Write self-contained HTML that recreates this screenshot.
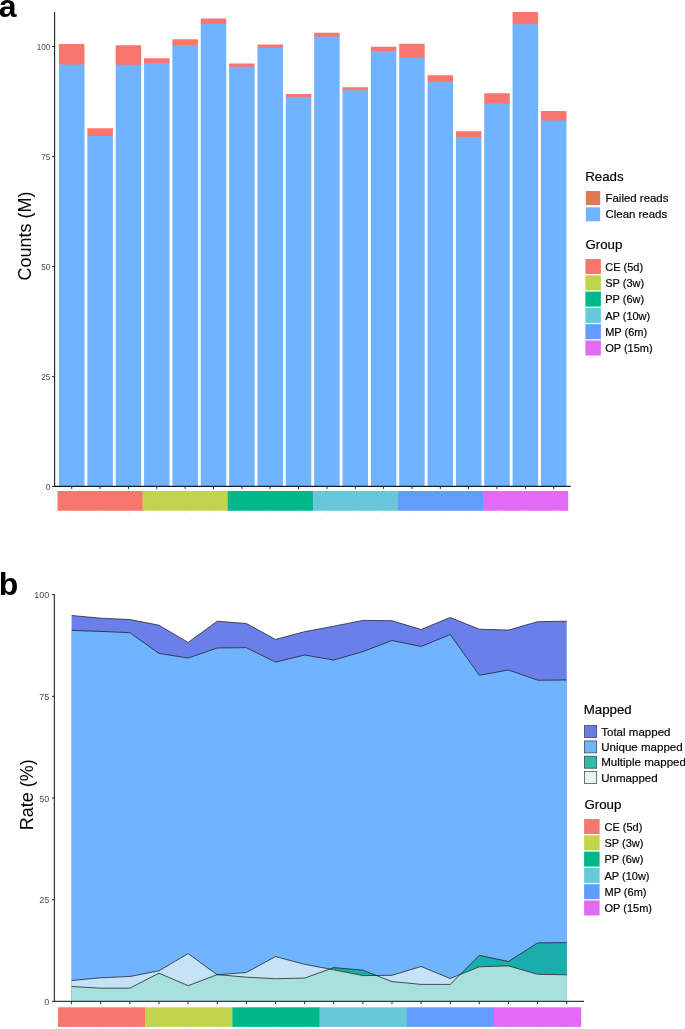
<!DOCTYPE html>
<html><head><meta charset="utf-8"><title>Figure</title>
<style>
html,body{margin:0;padding:0;background:#fff;}
body{width:685px;height:1029px;overflow:hidden;}
svg{display:block;font-family:"Liberation Sans", sans-serif;}
.lg text{stroke:#000;stroke-width:0.18px;}
</style></head><body>
<svg width="685" height="1029" viewBox="0 0 685 1029">
<rect width="685" height="1029" fill="#fff"/>
<g style="will-change:transform">
<rect x="59.00" y="44.00" width="25.5" height="21.10" fill="#F8766D"/>
<rect x="59.00" y="64.50" width="25.5" height="421.75" fill="#70B4FF"/>
<rect x="87.35" y="128.25" width="25.5" height="8.35" fill="#F8766D"/>
<rect x="87.35" y="136.00" width="25.5" height="350.25" fill="#70B4FF"/>
<rect x="115.70" y="45.25" width="25.5" height="20.10" fill="#F8766D"/>
<rect x="115.70" y="64.75" width="25.5" height="421.50" fill="#70B4FF"/>
<rect x="144.05" y="58.25" width="25.5" height="5.35" fill="#F8766D"/>
<rect x="144.05" y="63.00" width="25.5" height="423.25" fill="#70B4FF"/>
<rect x="172.40" y="39.25" width="25.5" height="6.35" fill="#F8766D"/>
<rect x="172.40" y="45.00" width="25.5" height="441.25" fill="#70B4FF"/>
<rect x="200.75" y="18.50" width="25.5" height="6.10" fill="#F8766D"/>
<rect x="200.75" y="24.00" width="25.5" height="462.25" fill="#70B4FF"/>
<rect x="229.10" y="63.50" width="25.5" height="3.85" fill="#F8766D"/>
<rect x="229.10" y="66.75" width="25.5" height="419.50" fill="#70B4FF"/>
<rect x="257.45" y="44.50" width="25.5" height="3.85" fill="#F8766D"/>
<rect x="257.45" y="47.75" width="25.5" height="438.50" fill="#70B4FF"/>
<rect x="285.80" y="94.00" width="25.5" height="3.85" fill="#F8766D"/>
<rect x="285.80" y="97.25" width="25.5" height="389.00" fill="#70B4FF"/>
<rect x="314.15" y="32.75" width="25.5" height="4.35" fill="#F8766D"/>
<rect x="314.15" y="36.50" width="25.5" height="449.75" fill="#70B4FF"/>
<rect x="342.50" y="87.25" width="25.5" height="3.60" fill="#F8766D"/>
<rect x="342.50" y="90.25" width="25.5" height="396.00" fill="#70B4FF"/>
<rect x="370.85" y="46.75" width="25.5" height="5.10" fill="#F8766D"/>
<rect x="370.85" y="51.25" width="25.5" height="435.00" fill="#70B4FF"/>
<rect x="399.20" y="43.75" width="25.5" height="14.35" fill="#F8766D"/>
<rect x="399.20" y="57.50" width="25.5" height="428.75" fill="#70B4FF"/>
<rect x="427.55" y="75.25" width="25.5" height="7.10" fill="#F8766D"/>
<rect x="427.55" y="81.75" width="25.5" height="404.50" fill="#70B4FF"/>
<rect x="455.90" y="131.25" width="25.5" height="6.60" fill="#F8766D"/>
<rect x="455.90" y="137.25" width="25.5" height="349.00" fill="#70B4FF"/>
<rect x="484.25" y="93.25" width="25.5" height="10.85" fill="#F8766D"/>
<rect x="484.25" y="103.50" width="25.5" height="382.75" fill="#70B4FF"/>
<rect x="512.60" y="12.00" width="25.5" height="12.85" fill="#F8766D"/>
<rect x="512.60" y="24.25" width="25.5" height="462.00" fill="#70B4FF"/>
<rect x="540.95" y="111.00" width="25.5" height="10.10" fill="#F8766D"/>
<rect x="540.95" y="120.50" width="25.5" height="365.75" fill="#70B4FF"/>
<path d="M54.6 12V486.35H570.75" fill="none" stroke="#1c1c1c" stroke-width="1.1"/>
<text x="50.3" y="49.7" text-anchor="end" font-size="8.2" fill="#4D4D4D">100</text>
<text x="50.3" y="159.8" text-anchor="end" font-size="8.2" fill="#4D4D4D">75</text>
<text x="50.3" y="269.8" text-anchor="end" font-size="8.2" fill="#4D4D4D">50</text>
<text x="50.3" y="379.8" text-anchor="end" font-size="8.2" fill="#4D4D4D">25</text>
<text x="50.3" y="489.6" text-anchor="end" font-size="8.2" fill="#4D4D4D">0</text>
<path d="M71.75 486.25v2.7M100.10 486.25v2.7M128.45 486.25v2.7M156.80 486.25v2.7M185.15 486.25v2.7M213.50 486.25v2.7M241.85 486.25v2.7M270.20 486.25v2.7M298.55 486.25v2.7M326.90 486.25v2.7M355.25 486.25v2.7M383.60 486.25v2.7M411.95 486.25v2.7M440.30 486.25v2.7M468.65 486.25v2.7M497.00 486.25v2.7M525.35 486.25v2.7M553.70 486.25v2.7M52 46.5H54.6M52 156.6H54.6M52 266.6H54.6M52 376.6H54.6M52 486.4H54.6" fill="none" stroke="#262626" stroke-width="1"/>
<rect x="57.50" y="491" width="85.42" height="19.75" fill="#F8766D"/>
<rect x="142.62" y="491" width="85.42" height="19.75" fill="#C0D44C"/>
<rect x="227.74" y="491" width="85.42" height="19.75" fill="#00B88A"/>
<rect x="312.86" y="491" width="85.42" height="19.75" fill="#66C8D8"/>
<rect x="397.98" y="491" width="85.42" height="19.75" fill="#619CFF"/>
<rect x="483.10" y="491" width="85.12" height="19.75" fill="#E36AF4"/>
<path d="M71.75 488.9V491M71.75 510.75v2.6M100.10 488.9V491M100.10 510.75v2.6M128.45 488.9V491M128.45 510.75v2.6M156.80 488.9V491M156.80 510.75v2.6M185.15 488.9V491M185.15 510.75v2.6M213.50 488.9V491M213.50 510.75v2.6M241.85 488.9V491M241.85 510.75v2.6M270.20 488.9V491M270.20 510.75v2.6M298.55 488.9V491M298.55 510.75v2.6M326.90 488.9V491M326.90 510.75v2.6M355.25 488.9V491M355.25 510.75v2.6M383.60 488.9V491M383.60 510.75v2.6M411.95 488.9V491M411.95 510.75v2.6M440.30 488.9V491M440.30 510.75v2.6M468.65 488.9V491M468.65 510.75v2.6M497.00 488.9V491M497.00 510.75v2.6M525.35 488.9V491M525.35 510.75v2.6M553.70 488.9V491M553.70 510.75v2.6M54.8 500.8H57.5M568.2 500.8h2.7" fill="none" stroke="#e6edef" stroke-width="0.9"/>
<text transform="translate(31.1 236) rotate(-90)" text-anchor="middle" font-size="18" fill="#000">Counts (M)</text>
<text x="-1.2" y="17" font-size="32" font-weight="bold" fill="#000">a</text>
<g class="lg">
<text x="585.2" y="181.4" font-size="13.3" fill="#000">Reads</text>
<rect x="585.8" y="191" width="14.4" height="14" fill="#E17A50"/>
<rect x="585.8" y="207.3" width="14.4" height="14" fill="#70B4FF"/>
<text x="605.5" y="201.5" font-size="11.45" fill="#000">Failed reads</text>
<text x="605.5" y="217.9" font-size="11.45" fill="#000">Clean reads</text>
<text x="585.4" y="249" font-size="13.3" fill="#000">Group</text>
<rect x="585.4" y="259.00" width="15.5" height="15" fill="#F8766D"/>
<text x="605.2" y="270.60" font-size="11" fill="#000">CE (5d)</text>
<rect x="585.4" y="275.30" width="15.5" height="15" fill="#C0D44C"/>
<text x="605.2" y="286.90" font-size="11" fill="#000">SP (3w)</text>
<rect x="585.4" y="291.60" width="15.5" height="15" fill="#00B88A"/>
<text x="605.2" y="303.20" font-size="11" fill="#000">PP (6w)</text>
<rect x="585.4" y="307.90" width="15.5" height="15" fill="#66C8D8"/>
<text x="605.2" y="319.50" font-size="11" fill="#000">AP (10w)</text>
<rect x="585.4" y="324.20" width="15.5" height="15" fill="#619CFF"/>
<text x="605.2" y="335.80" font-size="11" fill="#000">MP (6m)</text>
<rect x="585.4" y="340.50" width="15.5" height="15" fill="#E36AF4"/>
<text x="605.2" y="352.10" font-size="11" fill="#000">OP (15m)</text>
</g>
<clipPath id="cm"><polygon points="71.60,1001.4 71.60,986.50 100.72,988.20 129.85,988.20 158.97,973.20 188.10,985.70 217.22,974.60 246.35,977.20 275.48,978.70 304.60,978.10 333.73,967.60 362.85,970.20 391.98,981.60 421.10,984.40 450.23,984.40 479.35,955.30 508.48,961.50 537.60,942.90 566.73,942.60 566.73,1001.4"/></clipPath>
<polygon points="71.60,1001.4 71.60,615.50 100.72,618.20 129.85,619.50 158.97,625.20 188.10,642.40 217.22,621.20 246.35,623.50 275.48,639.40 304.60,631.70 333.73,626.20 362.85,620.40 391.98,620.70 421.10,629.50 450.23,617.50 479.35,629.20 508.48,630.10 537.60,621.70 566.73,621.20 566.73,1001.4" fill="#6A7FE9"/>
<polygon points="71.60,1001.4 71.60,630.40 100.72,631.40 129.85,632.70 158.97,653.40 188.10,658.10 217.22,648.00 246.35,647.70 275.48,662.10 304.60,655.00 333.73,660.00 362.85,651.60 391.98,640.50 421.10,646.50 450.23,634.50 479.35,675.30 508.48,670.00 537.60,680.20 566.73,680.00 566.73,1001.4" fill="#70B4FF"/>
<polygon points="71.60,1001.4 71.60,986.50 100.72,988.20 129.85,988.20 158.97,973.20 188.10,985.70 217.22,974.60 246.35,977.20 275.48,978.70 304.60,978.10 333.73,967.60 362.85,970.20 391.98,981.60 421.10,984.40 450.23,984.40 479.35,955.30 508.48,961.50 537.60,942.90 566.73,942.60 566.73,1001.4" fill="#19AEAC"/>
<polygon points="71.60,1001.4 71.60,980.50 100.72,977.80 129.85,976.50 158.97,970.80 188.10,953.60 217.22,974.80 246.35,972.50 275.48,956.60 304.60,964.30 333.73,969.80 362.85,975.60 391.98,975.30 421.10,966.50 450.23,978.50 479.35,966.80 508.48,965.90 537.60,974.30 566.73,974.80 566.73,1001.4" fill="#C5E2F6"/>
<polygon points="71.60,1001.4 71.60,980.50 100.72,977.80 129.85,976.50 158.97,970.80 188.10,953.60 217.22,974.80 246.35,972.50 275.48,956.60 304.60,964.30 333.73,969.80 362.85,975.60 391.98,975.30 421.10,966.50 450.23,978.50 479.35,966.80 508.48,965.90 537.60,974.30 566.73,974.80 566.73,1001.4" fill="#A7E0DC" clip-path="url(#cm)"/>
<polyline points="71.60,615.50 100.72,618.20 129.85,619.50 158.97,625.20 188.10,642.40 217.22,621.20 246.35,623.50 275.48,639.40 304.60,631.70 333.73,626.20 362.85,620.40 391.98,620.70 421.10,629.50 450.23,617.50 479.35,629.20 508.48,630.10 537.60,621.70 566.73,621.20" fill="none" stroke="#1c1c1c" stroke-width="0.75" stroke-linejoin="round"/>
<polyline points="71.60,630.40 100.72,631.40 129.85,632.70 158.97,653.40 188.10,658.10 217.22,648.00 246.35,647.70 275.48,662.10 304.60,655.00 333.73,660.00 362.85,651.60 391.98,640.50 421.10,646.50 450.23,634.50 479.35,675.30 508.48,670.00 537.60,680.20 566.73,680.00" fill="none" stroke="#1c1c1c" stroke-width="0.75" stroke-linejoin="round"/>
<polyline points="71.60,986.50 100.72,988.20 129.85,988.20 158.97,973.20 188.10,985.70 217.22,974.60 246.35,977.20 275.48,978.70 304.60,978.10 333.73,967.60 362.85,970.20 391.98,981.60 421.10,984.40 450.23,984.40 479.35,955.30 508.48,961.50 537.60,942.90 566.73,942.60" fill="none" stroke="#1c1c1c" stroke-width="0.75" stroke-linejoin="round"/>
<polyline points="71.60,980.50 100.72,977.80 129.85,976.50 158.97,970.80 188.10,953.60 217.22,974.80 246.35,972.50 275.48,956.60 304.60,964.30 333.73,969.80 362.85,975.60 391.98,975.30 421.10,966.50 450.23,978.50 479.35,966.80 508.48,965.90 537.60,974.30 566.73,974.80" fill="none" stroke="#1c1c1c" stroke-width="0.75" stroke-linejoin="round"/>
<path d="M54.4 594.3V1001.4H584" fill="none" stroke="#3c3c3c" stroke-width="1.25"/>
<text x="49.2" y="598.1" text-anchor="end" font-size="9" fill="#4D4D4D">100</text>
<text x="49.2" y="699.8" text-anchor="end" font-size="9" fill="#4D4D4D">75</text>
<text x="49.2" y="801.5" text-anchor="end" font-size="9" fill="#4D4D4D">50</text>
<text x="49.2" y="903.2" text-anchor="end" font-size="9" fill="#4D4D4D">25</text>
<text x="49.2" y="1004.9" text-anchor="end" font-size="9" fill="#4D4D4D">0</text>
<path d="M71.60 1001.4v2.7M100.72 1001.4v2.7M129.85 1001.4v2.7M158.97 1001.4v2.7M188.10 1001.4v2.7M217.22 1001.4v2.7M246.35 1001.4v2.7M275.48 1001.4v2.7M304.60 1001.4v2.7M333.73 1001.4v2.7M362.85 1001.4v2.7M391.98 1001.4v2.7M421.10 1001.4v2.7M450.23 1001.4v2.7M479.35 1001.4v2.7M508.48 1001.4v2.7M537.60 1001.4v2.7M566.73 1001.4v2.7M52 594.60H54.4M52 696.30H54.4M52 798.00H54.4M52 899.70H54.4M52 1001.40H54.4" fill="none" stroke="#262626" stroke-width="1"/>
<rect x="58.00" y="1007.3" width="87.50" height="19.6" fill="#F8766D"/>
<rect x="145.20" y="1007.3" width="87.50" height="19.6" fill="#C0D44C"/>
<rect x="232.40" y="1007.3" width="87.50" height="19.6" fill="#00B88A"/>
<rect x="319.60" y="1007.3" width="87.50" height="19.6" fill="#66C8D8"/>
<rect x="406.80" y="1007.3" width="87.50" height="19.6" fill="#619CFF"/>
<rect x="494.00" y="1007.3" width="87.20" height="19.6" fill="#E36AF4"/>
<path d="M71.60 1004.1V1007.3M71.60 1026.9v2.1M100.72 1004.1V1007.3M100.72 1026.9v2.1M129.85 1004.1V1007.3M129.85 1026.9v2.1M158.97 1004.1V1007.3M158.97 1026.9v2.1M188.10 1004.1V1007.3M188.10 1026.9v2.1M217.22 1004.1V1007.3M217.22 1026.9v2.1M246.35 1004.1V1007.3M246.35 1026.9v2.1M275.48 1004.1V1007.3M275.48 1026.9v2.1M304.60 1004.1V1007.3M304.60 1026.9v2.1M333.73 1004.1V1007.3M333.73 1026.9v2.1M362.85 1004.1V1007.3M362.85 1026.9v2.1M391.98 1004.1V1007.3M391.98 1026.9v2.1M421.10 1004.1V1007.3M421.10 1026.9v2.1M450.23 1004.1V1007.3M450.23 1026.9v2.1M479.35 1004.1V1007.3M479.35 1026.9v2.1M508.48 1004.1V1007.3M508.48 1026.9v2.1M537.60 1004.1V1007.3M537.60 1026.9v2.1M566.73 1004.1V1007.3M566.73 1026.9v2.1M55 1017H58M581.2 1017h2.8" fill="none" stroke="#e6edef" stroke-width="0.9"/>
<text transform="translate(33.3 794.7) rotate(-90)" text-anchor="middle" font-size="18" fill="#000">Rate (%)</text>
<text x="-1.2" y="595" font-size="32" font-weight="bold" fill="#000">b</text>
<g class="lg">
<text x="583.7" y="714.3" font-size="13.3" fill="#000">Mapped</text>
<rect x="584.4" y="725.60" width="12.3" height="12" fill="#687CE8" stroke="#3a3a3a" stroke-width="0.7"/>
<text x="601.2" y="735.80" font-size="11.55" fill="#000">Total mapped</text>
<rect x="584.4" y="740.90" width="12.3" height="12" fill="#70B4FF" stroke="#3a3a3a" stroke-width="0.7"/>
<text x="601.2" y="751.10" font-size="11.55" fill="#000">Unique mapped</text>
<rect x="584.4" y="756.20" width="12.3" height="12" fill="#33B8AA" stroke="#3a3a3a" stroke-width="0.7"/>
<text x="601.2" y="766.40" font-size="11.55" fill="#000">Multiple mapped</text>
<rect x="584.4" y="771.50" width="12.3" height="12" fill="#E9F4F1" stroke="#3a3a3a" stroke-width="0.7"/>
<text x="601.2" y="781.70" font-size="11.55" fill="#000">Unmapped</text>
<text x="584.4" y="809" font-size="13.3" fill="#000">Group</text>
<rect x="584.1" y="819.00" width="15.5" height="15" fill="#F8766D"/>
<text x="604.5" y="830.60" font-size="11" fill="#000">CE (5d)</text>
<rect x="584.1" y="835.30" width="15.5" height="15" fill="#C0D44C"/>
<text x="604.5" y="846.90" font-size="11" fill="#000">SP (3w)</text>
<rect x="584.1" y="851.60" width="15.5" height="15" fill="#00B88A"/>
<text x="604.5" y="863.20" font-size="11" fill="#000">PP (6w)</text>
<rect x="584.1" y="867.90" width="15.5" height="15" fill="#66C8D8"/>
<text x="604.5" y="879.50" font-size="11" fill="#000">AP (10w)</text>
<rect x="584.1" y="884.20" width="15.5" height="15" fill="#619CFF"/>
<text x="604.5" y="895.80" font-size="11" fill="#000">MP (6m)</text>
<rect x="584.1" y="900.50" width="15.5" height="15" fill="#E36AF4"/>
<text x="604.5" y="912.10" font-size="11" fill="#000">OP (15m)</text>
</g>
</g>
</svg>
</body></html>
